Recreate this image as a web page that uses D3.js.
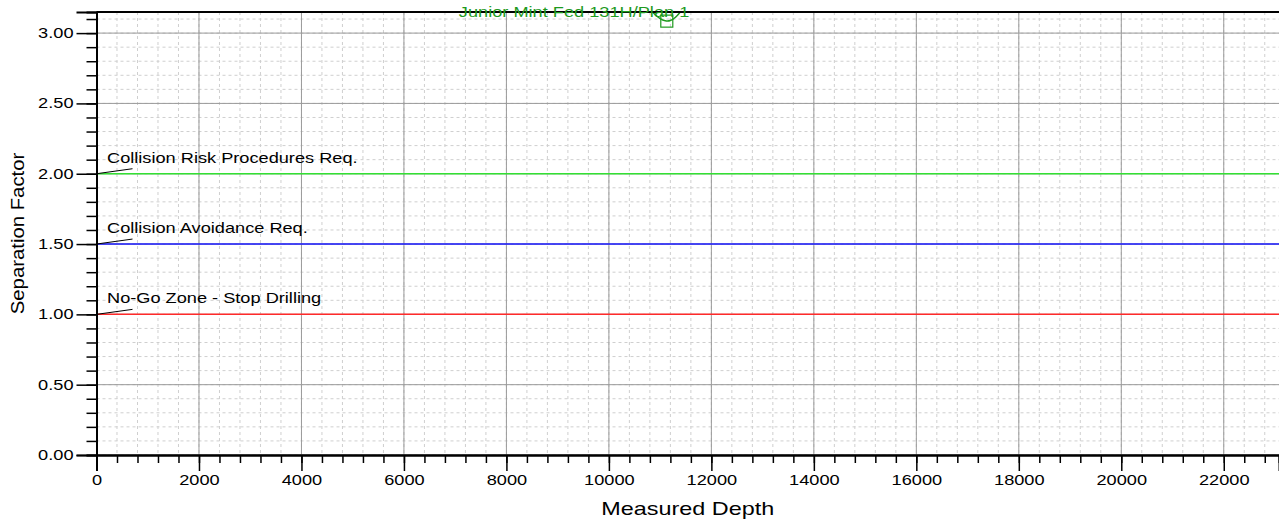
<!DOCTYPE html>
<html>
<head>
<meta charset="utf-8">
<script src="https://cdn.jsdelivr.net/npm/d3@7"></script>
<style>
body { margin:0; background:#fff; overflow:hidden; }
text { font-family: Arial, "Liberation Sans", sans-serif; }
</style>
</head>
<body>
<svg id="chart"></svg>
<script>

//data//

var xTicks = [0,2000,4000,6000,8000,10000,12000,14000,16000,18000,20000,22000];
var yTicks = [0,0.5,1.0,1.5,2.0,2.5,3.0];
var limitNames = ["No-Go Zone - Stop Drilling","Collision Avoidance Req.","Collision Risk Procedures Req."];
var limitValues = [1.0,1.5,2.0];
var limitColors = ["#ff2a2a","#1a1aff","#33e033"];

//offset well curve (mostly above the top of the chart)//
var wellName = "Junior Mint Fed 131H/Plan 1";
var wellDepth = [10700,10800,10900,11000,11100,11200,11300,11400,11500];
var wellSF = [3.22,3.17,3.13,3.10,3.085,3.085,3.11,3.15,3.21];
var wellMinDepth = 11130;
var wellMinSF = 3.085;
var wellLabelDepth = 9320;

//the picture's font is stretched wide, so every text gets this x scale//
var stretch = 1.3;

//screen and margins//

var screen = {width:1279, height:522}
var margins = {top:12, right:0, bottom:67, left:96.5}

var width = screen.width - margins.left - margins.right;
var height = screen.height - margins.top - margins.bottom;

var svg = d3.select("#chart")
            .attr("width",screen.width)
            .attr("height",screen.height)

var xScale = d3.scaleLinear()
               .domain([0,23078])
               .range([0,width])

var yScale = d3.scaleLinear()
               .domain([0,3.15])
               .range([height,0])

var minorX = d3.range(0,23078,400)
var minorY = d3.range(0,3.151,0.1)

var graph = svg.append("g")
               .attr("transform","translate("+margins.left+","+margins.top+")")

//puts a text at x,y with the wide stretch//
var placeText = function(sel, x, y, extra, sx)
                {
                sel.attr("x",0)
                   .attr("y",0)
                   .attr("transform","translate("+x+","+y+")"+(extra||"")+" scale("+(sx||stretch)+",1)")
                }

//minor dashed grid//

graph.append("g")
     .selectAll("line")
     .data(minorX)
     .enter()
     .append("line")
     .attr("x1",function(d){return xScale(d)})
     .attr("x2",function(d){return xScale(d)})
     .attr("y1",0)
     .attr("y2",height)
     .attr("stroke","#cfcfcf")
     .attr("stroke-dasharray","3,3")

graph.append("g")
     .selectAll("line")
     .data(minorY)
     .enter()
     .append("line")
     .attr("x1",0)
     .attr("x2",width)
     .attr("y1",function(d){return yScale(d)})
     .attr("y2",function(d){return yScale(d)})
     .attr("stroke","#cfcfcf")
     .attr("stroke-dasharray","3,3")

//major solid grid//

graph.append("g")
     .selectAll("line")
     .data(xTicks)
     .enter()
     .append("line")
     .attr("x1",function(d){return xScale(d)})
     .attr("x2",function(d){return xScale(d)})
     .attr("y1",0)
     .attr("y2",height)
     .attr("stroke","#9a9a9a")

graph.append("g")
     .selectAll("line")
     .data(yTicks)
     .enter()
     .append("line")
     .attr("x1",0)
     .attr("x2",width)
     .attr("y1",function(d){return yScale(d)})
     .attr("y2",function(d){return yScale(d)})
     .attr("stroke","#9a9a9a")

//limit lines and their labels//

graph.append("g")
     .selectAll("line")
     .data(limitValues)
     .enter()
     .append("line")
     .attr("x1",0)
     .attr("x2",width)
     .attr("y1",function(d){return yScale(d)})
     .attr("y2",function(d){return yScale(d)})
     .attr("stroke",function(d,i){return limitColors[i]})
     .attr("stroke-width",1.5)

graph.append("g")
     .selectAll("line")
     .data(limitValues)
     .enter()
     .append("line")
     .attr("x1",0)
     .attr("x2",36)
     .attr("y1",function(d){return yScale(d)})
     .attr("y2",function(d){return yScale(d)-5})
     .attr("stroke","#000")

graph.append("g")
     .selectAll("text")
     .data(limitValues)
     .enter()
     .append("text")
     .attr("font-size","14px")
     .each(function(d){placeText(d3.select(this),10.5,yScale(d)-11)})
     .text(function(d,i){return limitNames[i]})

//offset well curve, clipped to plot//

svg.append("clipPath")
   .attr("id","clip")
   .append("rect")
   .attr("width",width)
   .attr("height",height)

var points = wellDepth.map(function(d,i){return [d,wellSF[i]]})

graph.append("path")
     .datum(points)
     .attr("clip-path","url(#clip)")
     .attr("d",d3.line()
                 .curve(d3.curveBasis)
                 .x(function(p){return xScale(p[0])})
                 .y(function(p){return yScale(p[1])}))
     .attr("fill","none")
     .attr("stroke","#1e9a1e")
     .attr("stroke-width",1.5)

graph.append("rect")
     .attr("x",xScale(wellMinDepth)-6)
     .attr("y",yScale(wellMinSF)-6)
     .attr("width",12)
     .attr("height",12)
     .attr("fill","none")
     .attr("stroke","#1e9a1e")
     .attr("stroke-width",1.2)

//axes//

var xAxis = d3.axisBottom(xScale).tickValues(xTicks).tickSize(16).tickPadding(4).tickFormat(d3.format("d"))
var xMinor = d3.axisBottom(xScale).tickValues(minorX).tickSize(8).tickFormat("")
var yAxis = d3.axisLeft(yScale).tickValues(yTicks).tickSize(20).tickPadding(3).tickFormat(d3.format(".2f"))
var yMinor = d3.axisLeft(yScale).tickValues(minorY).tickSize(10).tickFormat("")

graph.append("g").attr("transform","translate(0,"+height+")").call(xMinor)
var gx = graph.append("g").attr("transform","translate(0,"+height+")").call(xAxis)
graph.append("g").call(yMinor)
var gy = graph.append("g").call(yAxis)

graph.selectAll(".domain").attr("stroke-width",2).attr("stroke","#000")
graph.selectAll(".tick line").attr("stroke","#000").attr("stroke-width",1.5)
graph.selectAll(".tick text").attr("font-size","14px").attr("fill","#000")
     .attr("font-family","Arial, 'Liberation Sans', sans-serif")

gx.selectAll(".tick text").attr("transform","scale("+stretch+",1)")
gy.selectAll(".tick text").attr("x",-23/stretch).attr("transform","scale("+stretch+",1)")

//top frame//

graph.append("line")
     .attr("x1",0)
     .attr("x2",width)
     .attr("y1",0)
     .attr("y2",0)
     .attr("stroke","#000")
     .attr("stroke-width",2)

//well label sits on the top frame//

graph.append("text")
     .attr("text-anchor","middle")
     .attr("font-size","14px")
     .attr("fill","#1e9a1e")
     .call(placeText,xScale(wellLabelDepth),5)
     .text(wellName)

//axis titles//

svg.append("text")
   .attr("text-anchor","middle")
   .attr("font-size","18px")
   .call(placeText,margins.left+width/2,515)
   .text("Measured Depth")

svg.append("text")
   .attr("text-anchor","middle")
   .attr("font-size","18px")
   .call(placeText,24,margins.top+height/2," rotate(-90)",1.13)
   .text("Separation Factor")

</script>
</body>
</html>
